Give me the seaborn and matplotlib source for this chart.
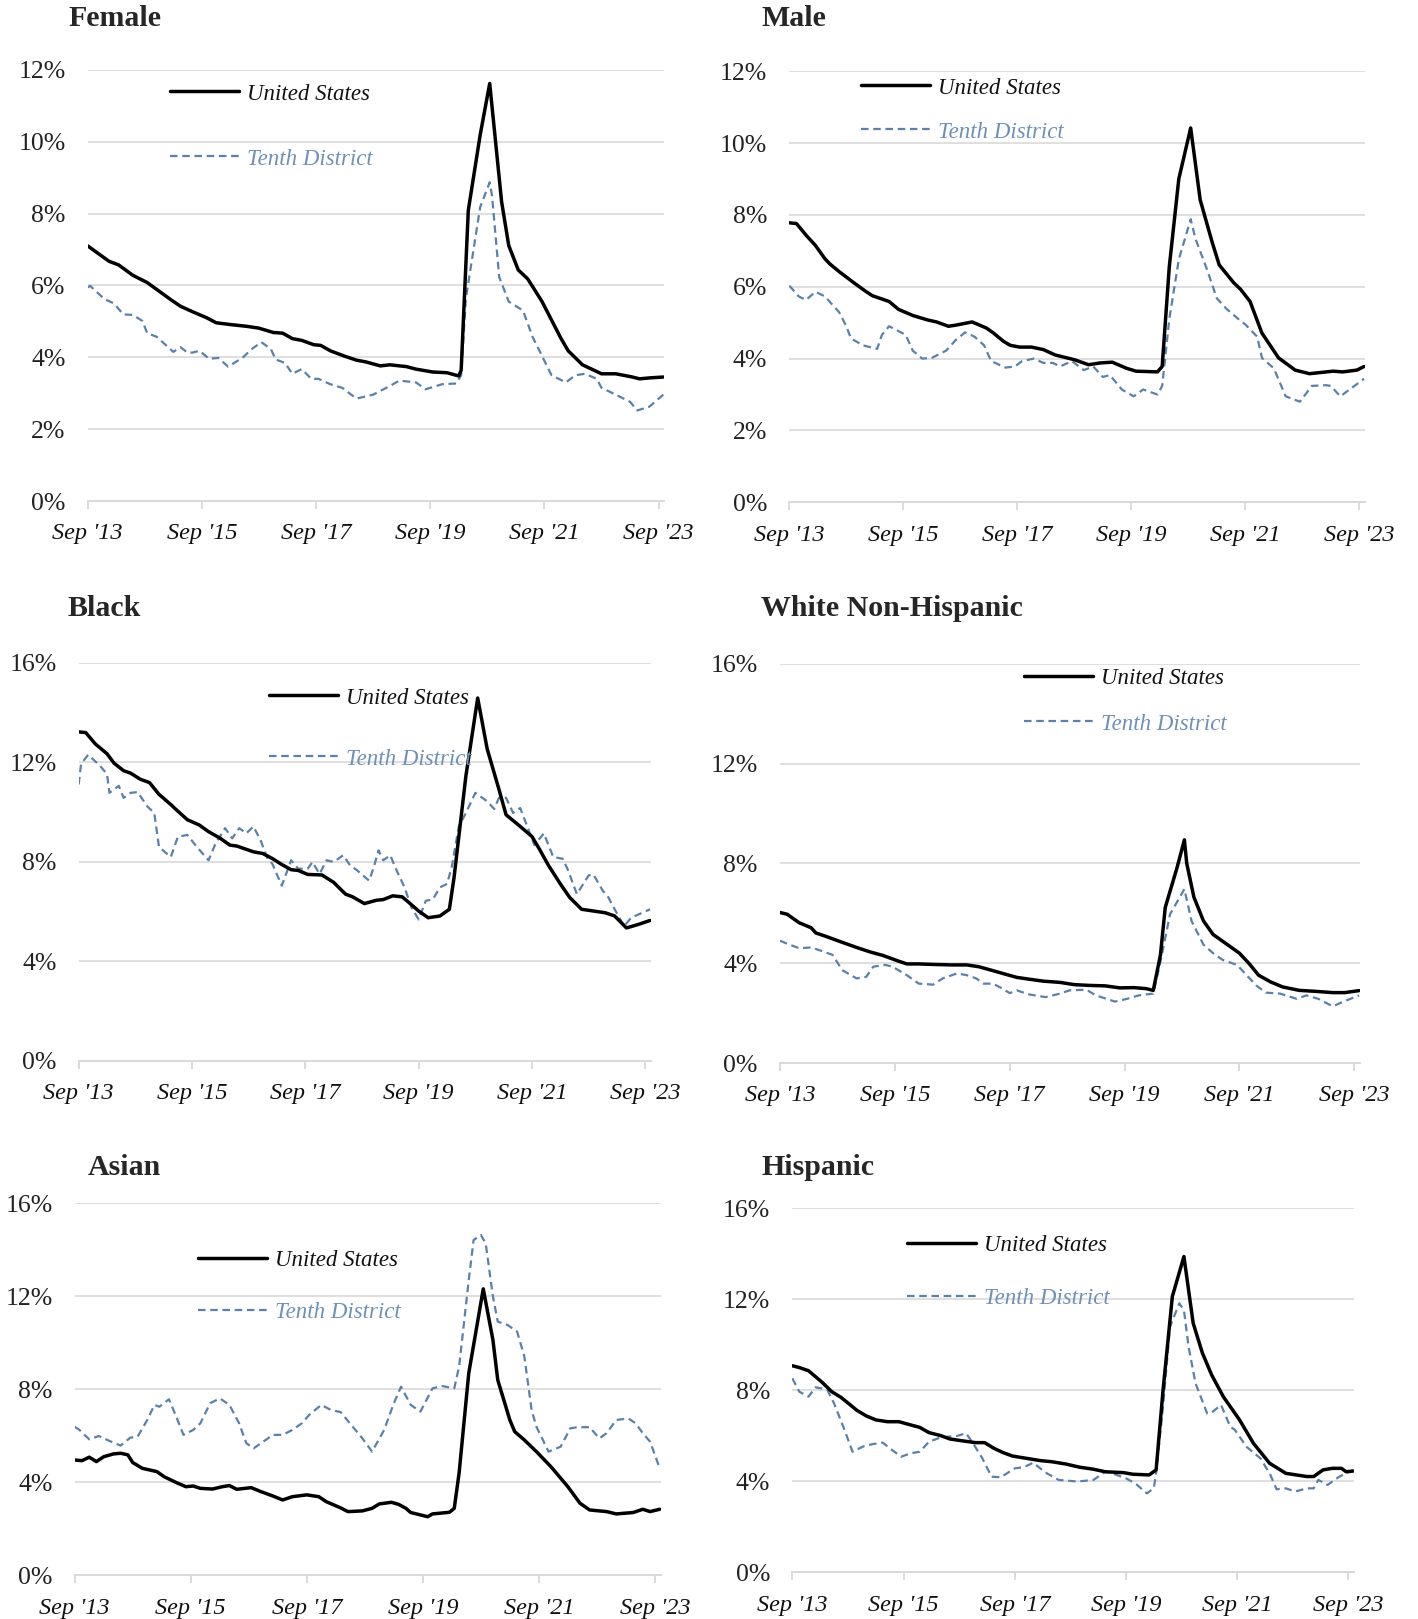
import matplotlib
matplotlib.use("Agg")
import matplotlib.pyplot as plt
import pandas as pd
import seaborn as sns
from matplotlib.legend import Legend

# months since Sep 2013, unemployment rate (%)
female_us = [(0, 7.10), (2.5, 6.86), (4.5, 6.67), (6.5, 6.57), (9.5, 6.28), (12.5, 6.08), (15, 5.84),
             (17.5, 5.60), (19.5, 5.42), (22, 5.27), (25, 5.10), (27, 4.96), (30, 4.91), (33.5, 4.86),
             (36, 4.81), (39, 4.69), (41, 4.67), (43, 4.52), (45, 4.47), (47.5, 4.35), (49, 4.33),
             (51, 4.18), (54, 4.03), (56.5, 3.92), (58.5, 3.87), (61.5, 3.76), (63.5, 3.79), (67, 3.74),
             (69, 3.67), (72.5, 3.59), (75.5, 3.57), (78, 3.48), (78.5, 3.64), (80, 8.09), (82.5, 10.19),
             (84.5, 11.62), (87, 8.33), (88.5, 7.11), (90.5, 6.43), (92.5, 6.18), (95.5, 5.55),
             (99.5, 4.52), (101, 4.18), (104, 3.79), (108, 3.54), (111, 3.54), (114.5, 3.45),
             (116, 3.40), (118.5, 3.43), (121, 3.45)]
female_td = [(0, 5.94), (0.5, 5.99), (3.5, 5.62), (5.5, 5.50), (7.5, 5.19), (9.5, 5.18), (11.5, 5.01),
             (12.5, 4.67), (14.5, 4.57), (16.5, 4.33), (18, 4.15), (19.5, 4.28), (21, 4.13), (22, 4.13),
             (23.5, 4.18), (25.5, 3.96), (27.5, 3.98), (29.5, 3.74), (32.5, 3.98), (34.5, 4.23),
             (36.5, 4.42), (38.5, 4.23), (39.5, 3.94), (41.5, 3.84), (43, 3.54), (45, 3.67), (47, 3.40),
             (48.5, 3.40), (51, 3.25), (53.5, 3.15), (56.5, 2.85), (60, 2.96), (63.5, 3.20), (65.5, 3.35),
             (69, 3.30), (71, 3.11), (74.5, 3.25), (77.5, 3.27), (78.5, 3.50), (79.5, 5.64), (82.5, 8.18),
             (84.5, 8.87), (85, 8.48), (86.5, 6.23), (88.5, 5.55), (91.5, 5.30), (93.5, 4.57),
             (97.5, 3.50), (100.5, 3.30), (102.5, 3.50), (104.5, 3.54), (107, 3.40), (108, 3.15),
             (111, 2.96), (114, 2.76), (115.5, 2.52), (118, 2.62), (121, 2.96)]

male_us = [(0, 7.78), (1.5, 7.76), (3.5, 7.44), (5.5, 7.15), (7.5, 6.78), (8.5, 6.64), (10.5, 6.42),
           (13.5, 6.12), (16, 5.88), (17.5, 5.75), (21, 5.59), (23, 5.37), (26, 5.20), (29, 5.08),
           (31, 5.02), (33.5, 4.90), (35, 4.93), (38.5, 5.02), (41.5, 4.85), (43, 4.71), (45, 4.49),
           (46.5, 4.37), (48.5, 4.32), (51, 4.32), (53.5, 4.25), (56, 4.10), (60, 3.97), (63, 3.83),
           (65.5, 3.88), (68, 3.90), (71, 3.73), (73, 3.65), (77.5, 3.63), (78.5, 3.78), (80, 6.56),
           (82, 9.00), (84.5, 10.42), (86.5, 8.42), (89, 7.25), (90.5, 6.61), (93.5, 6.12), (95, 5.93),
           (97, 5.59), (99.5, 4.71), (103, 4.02), (106.5, 3.68), (109.5, 3.58), (114.5, 3.65),
           (116.5, 3.63), (119.5, 3.68), (121, 3.78)]
male_td = [(0, 6.03), (2, 5.73), (3.5, 5.63), (5.5, 5.86), (7.5, 5.73), (10.5, 5.29), (12, 4.90),
           (13, 4.56), (15.5, 4.37), (18.5, 4.27), (19.5, 4.66), (21, 4.90), (22.5, 4.80), (24.5, 4.66),
           (26, 4.22), (28, 4.00), (30, 4.02), (33, 4.22), (35, 4.51), (37, 4.73), (39, 4.61), (41, 4.37),
           (42.5, 3.93), (45.5, 3.75), (47.5, 3.78), (49, 3.93), (51.5, 4.00), (53.5, 3.88), (55.5, 3.88),
           (57, 3.78), (59.5, 3.93), (62, 3.68), (64, 3.78), (66, 3.49), (67.5, 3.54), (70, 3.14),
           (72.5, 2.95), (74.5, 3.14), (77.5, 3.00), (78.5, 3.24), (80, 5.10), (82, 6.76), (84.5, 7.88),
           (85.5, 7.34), (88, 6.46), (90, 5.68), (92, 5.39), (95, 5.05), (96, 4.95), (98.5, 4.61),
           (99.5, 4.02), (102, 3.73), (104.5, 2.95), (107.5, 2.80), (110, 3.24), (113, 3.26), (114, 3.24),
           (116, 2.95), (119.5, 3.29), (121, 3.44)]

black_us = [(0, 13.22), (1.5, 13.19), (3.5, 12.74), (6, 12.34), (7.5, 11.96), (9.5, 11.66), (11, 11.56),
            (13, 11.32), (15, 11.18), (17, 10.71), (19.5, 10.30), (20.5, 10.12), (23, 9.69), (25.5, 9.48),
            (27.5, 9.21), (30, 8.94), (32, 8.67), (33.5, 8.63), (37, 8.40), (39, 8.33), (41, 8.13),
            (43, 7.89), (45, 7.68), (46.5, 7.65), (48.5, 7.49), (51.5, 7.47), (54, 7.17), (56.5, 6.70),
            (58, 6.59), (60.5, 6.32), (63, 6.45), (64.5, 6.48), (66.5, 6.63), (68.5, 6.59), (69.5, 6.43),
            (72, 6.02), (74, 5.75), (76.5, 5.82), (78.5, 6.09), (79.5, 7.38), (82, 11.45), (84.5, 14.58),
            (86.5, 12.54), (89, 10.91), (90.5, 9.89), (93.5, 9.42), (96, 9.01), (97.5, 8.53), (99.5, 7.85),
            (102, 7.11), (104, 6.56), (106.5, 6.09), (109, 6.02), (111.5, 5.95), (113.5, 5.82),
            (116, 5.34), (118.5, 5.48), (121, 5.64)]
black_td = [(0, 11.11), (0.5, 11.93), (2, 12.30), (4.5, 11.86), (6, 11.52), (6.5, 10.77), (8.5, 11.05),
            (9.5, 10.57), (11, 10.77), (12.5, 10.80), (14.5, 10.23), (16, 9.96), (17, 8.60), (19.5, 8.19),
            (21, 9.00), (23, 9.08), (25, 8.60), (27.5, 8.06), (29, 8.74), (31, 9.35), (32.5, 8.94),
            (34, 9.35), (35.5, 9.14), (37, 9.42), (38.5, 8.87), (40, 8.12), (41, 7.92), (43, 7.04),
            (45, 8.06), (46.5, 7.72), (48.5, 7.72), (49.5, 7.99), (51, 7.51), (52.5, 8.06), (54, 7.99),
            (56, 8.26), (57.5, 7.85), (59, 7.65), (61.5, 7.24), (62.5, 7.79), (63.5, 8.46), (64.5, 8.06),
            (66, 8.26), (67, 7.79), (69, 6.97), (70.5, 6.15), (72, 5.68), (73.5, 6.43), (75, 6.49),
            (76.5, 6.97), (78, 7.11), (79, 7.79), (80.5, 9.42), (82, 9.96), (84, 10.77), (86.5, 10.43),
            (88, 10.12), (89, 10.57), (90.5, 10.57), (92, 9.96), (93.5, 10.16), (95, 9.42), (96.5, 8.67),
            (98.5, 9.14), (100.5, 8.19), (102.5, 8.12), (103.5, 7.72), (105.5, 6.70), (108, 7.45),
            (109, 7.49), (111, 6.83), (112, 6.63), (113.5, 6.09), (115.5, 5.41), (117, 5.75), (121, 6.09)]

white_us = [(0, 6.03), (1.5, 5.96), (4, 5.62), (6.5, 5.42), (7.5, 5.21), (9.5, 5.08), (12.5, 4.87),
            (16, 4.63), (19, 4.44), (21.5, 4.31), (24.5, 4.10), (26.5, 3.97), (29, 3.97), (32, 3.95),
            (36, 3.93), (39, 3.93), (41.5, 3.86), (44.5, 3.70), (46.5, 3.59), (49.5, 3.43), (52, 3.36),
            (55, 3.28), (58.5, 3.23), (61.5, 3.14), (64.5, 3.11), (68, 3.09), (71, 3.01), (74, 3.02),
            (76.5, 2.98), (78, 2.91), (79.5, 4.33), (80.5, 6.23), (83, 7.85), (84.5, 8.94), (85, 7.99),
            (86.5, 6.64), (88.5, 5.69), (90.5, 5.15), (93, 4.81), (96, 4.40), (98, 3.99), (100, 3.52),
            (102.5, 3.25), (105, 3.05), (108.5, 2.91), (112, 2.87), (115.5, 2.82), (118, 2.82),
            (121, 2.90)]
white_td = [(0, 4.90), (2, 4.74), (4, 4.60), (6.5, 4.63), (9, 4.47), (11, 4.33), (13, 3.72), (16, 3.39),
            (18, 3.45), (19.5, 3.86), (22, 3.93), (23.5, 3.86), (26.5, 3.52), (29, 3.18), (32, 3.14),
            (34, 3.39), (37, 3.59), (39, 3.52), (41, 3.39), (42.5, 3.18), (44.5, 3.18), (46.5, 2.98),
            (48, 2.80), (49.5, 2.91), (52, 2.75), (55.5, 2.64), (58.5, 2.78), (60.5, 2.91), (64, 2.94),
            (66, 2.71), (70, 2.46), (72.5, 2.57), (75, 2.71), (78, 2.78), (79.5, 4.06), (81.5, 5.96),
            (84.5, 6.97), (86, 5.69), (88.5, 4.74), (90.5, 4.40), (92.5, 4.13), (95.5, 3.93), (97.5, 3.52),
            (99.5, 3.11), (101.5, 2.82), (104.5, 2.78), (108, 2.57), (110, 2.71), (112.5, 2.57),
            (115.5, 2.27), (117.5, 2.44), (121, 2.71)]

asian_us = [(0, 4.96), (1.5, 4.93), (3, 5.08), (4.5, 4.89), (6, 5.10), (8, 5.22), (9.5, 5.25), (11, 5.18),
            (12, 4.85), (14, 4.60), (17, 4.46), (18.5, 4.24), (21, 3.99), (23, 3.81), (24.5, 3.84),
            (26, 3.74), (28.5, 3.71), (30.5, 3.81), (32, 3.86), (33.5, 3.70), (36.5, 3.77), (38.5, 3.60),
            (41, 3.41), (43, 3.24), (45, 3.38), (48, 3.46), (50.5, 3.38), (52, 3.17), (55, 2.90),
            (56.5, 2.74), (59.5, 2.77), (61.5, 2.88), (63, 3.07), (65.5, 3.14), (67, 3.05), (68.5, 2.88),
            (69.5, 2.70), (73, 2.52), (74, 2.64), (77.5, 2.71), (78.5, 2.88), (79.5, 4.39), (81.5, 8.69),
            (84.5, 12.32), (86.5, 10.12), (87.5, 8.40), (90, 6.68), (91, 6.18), (93, 5.82), (95.5, 5.32),
            (98.5, 4.67), (102, 3.81), (104.5, 3.10), (106.5, 2.81), (110, 2.74), (112, 2.64),
            (115.5, 2.70), (117.5, 2.84), (119, 2.74), (121, 2.84)]
asian_td = [(0, 6.39), (1, 6.25), (3, 5.85), (5, 5.99), (7.5, 5.75), (9.5, 5.58), (11.5, 5.92), (13, 5.96),
            (15, 6.68), (16.5, 7.33), (17.5, 7.25), (19.5, 7.57), (21, 6.82), (22.5, 6.04), (24.5, 6.25),
            (26, 6.54), (28, 7.40), (30, 7.61), (32, 7.33), (34, 6.54), (35.5, 5.68), (37, 5.46),
            (39, 5.75), (41, 6.04), (43, 6.04), (45, 6.25), (47, 6.54), (48.5, 6.90), (51, 7.33),
            (53, 7.11), (55, 7.02), (57.5, 6.39), (59.5, 5.89), (61.5, 5.32), (64, 6.25), (66, 7.40),
            (67.5, 8.11), (69.5, 7.33), (71.5, 7.04), (74, 8.04), (76, 8.14), (78.5, 8.04), (79.5, 8.97),
            (81.5, 12.70), (82.5, 14.42), (84, 14.64), (85, 14.28), (86.5, 11.99), (87.5, 10.91),
            (89.5, 10.77), (91.5, 10.48), (93, 9.41), (94.5, 7.11), (95.5, 6.39), (98, 5.32),
            (100.5, 5.53), (102.5, 6.32), (104, 6.37), (106.5, 6.37), (108.5, 5.89), (110, 6.11),
            (112, 6.68), (114.5, 6.75), (116, 6.54), (117.5, 6.11), (119, 5.75), (121, 4.60)]

hispanic_us = [(0, 9.08), (1.5, 9.00), (3.5, 8.86), (5, 8.60), (6.5, 8.34), (8.5, 7.94), (10.5, 7.69),
               (12.5, 7.36), (14, 7.11), (16, 6.87), (18, 6.70), (20.5, 6.62), (23, 6.62), (25.5, 6.48),
               (27.5, 6.37), (29.5, 6.14), (32, 6.01), (34, 5.86), (37, 5.77), (39.5, 5.70), (41.5, 5.70),
               (43.5, 5.45), (45.5, 5.26), (47.5, 5.11), (50.5, 5.01), (53.5, 4.91), (56, 4.86),
               (59, 4.76), (62, 4.62), (65, 4.53), (67.5, 4.42), (71.5, 4.38), (73.5, 4.31), (77, 4.28),
               (78.5, 4.50), (80, 8.01), (82, 12.12), (84.5, 13.88), (86.5, 10.95), (88.5, 9.63),
               (90.5, 8.67), (93, 7.72), (96.5, 6.70), (99.5, 5.67), (103, 4.79), (106.5, 4.35),
               (111, 4.21), (112.5, 4.21), (114.5, 4.50), (116.5, 4.57), (118.5, 4.57), (119.5, 4.42),
               (121, 4.45)]
hispanic_td = [(0, 8.53), (1.5, 7.94), (3.5, 7.72), (5, 8.13), (7.5, 8.04), (9, 7.43), (11, 6.40),
               (13, 5.30), (15.5, 5.55), (17.5, 5.64), (19.5, 5.70), (21.5, 5.38), (23.5, 5.08),
               (25.5, 5.23), (27.5, 5.30), (29.5, 5.74), (31.5, 5.89), (33.5, 5.96), (35.5, 5.99),
               (37.5, 6.11), (39, 5.67), (41, 5.01), (43, 4.20), (45, 4.18), (48, 4.57), (50, 4.62),
               (52, 4.82), (54.5, 4.40), (57.5, 4.06), (61.5, 3.99), (65, 4.06), (66.5, 4.28), (67.5, 4.42),
               (69, 4.35), (72, 4.13), (74, 3.91), (76.5, 3.47), (78, 3.69), (78.5, 4.35), (80, 7.28),
               (81.5, 10.80), (83.5, 11.82), (84.5, 11.53), (85.5, 9.92), (87, 8.31), (89.5, 6.99),
               (90.5, 7.02), (92.5, 7.36), (94.5, 6.40), (95.5, 6.26), (98, 5.52), (101, 5.01),
               (103, 4.35), (104.5, 3.65), (106.5, 3.69), (108.5, 3.55), (111, 3.69), (112.5, 3.69),
               (113.5, 4.06), (115.5, 3.84), (118, 4.20), (121, 4.50)]

tick_months = [0, 24, 48, 72, 96, 120]
tick_labels = ["Sep '13", "Sep '15", "Sep '17", "Sep '19", "Sep '21", "Sep '23"]

W, H = 1418, 1619
TD_COLOR = "#5a81a9"
TD_TEXT = "#6e90b6"
GRID = "#d9d9d9"

sns.set_style("white")
plt.rcParams["font.family"] = ["Liberation Serif", "DejaVu Serif"]


def box(x0, x1, ytop, ybot):
    # pixel box -> figure fraction rect
    return [x0 / W, 1 - ybot / H, (x1 - x0) / W, (ybot - ytop) / H]


# title, US, Tenth, ymax, step, axes box, title pos, legend (x, row1 y, row2 y)
panels = [
    ("Female", female_us, female_td, 12, 2, box(87.7, 664.3, 69.8, 501), (68, 18), (170, 94, 159)),
    ("Male", male_us, male_td, 12, 2, box(789.3, 1365, 71.2, 502.3), (761, 18), (861, 88, 132)),
    ("Black", black_us, black_td, 16, 4, box(78.7, 651, 662.7, 1060.8), (68, 608), (269, 698, 759)),
    ("White Non-Hispanic", white_us, white_td, 16, 4, box(780, 1360, 663.7, 1063), (761, 608),
     (1024, 678, 724)),
    ("Asian", asian_us, asian_td, 16, 4, box(74.7, 660.7, 1203.3, 1575.3), (88, 1167), (198, 1260, 1312)),
    ("Hispanic", hispanic_us, hispanic_td, 16, 4, box(792.3, 1354, 1208.3, 1572.3), (761, 1167),
     (907, 1245, 1298)),
]

fig = plt.figure(figsize=(W / 100, H / 100), dpi=100)

for title, us, td, ymax, step, rect, tpos, key in panels:
    ax = fig.add_axes(rect)
    us_df = pd.DataFrame(us, columns=["month", "rate"])
    td_df = pd.DataFrame(td, columns=["month", "rate"])
    sns.lineplot(data=td_df, x="month", y="rate", ax=ax, color=TD_COLOR, linewidth=1.6, errorbar=None)
    sns.lineplot(data=us_df, x="month", y="rate", ax=ax, color="black", linewidth=2.5, errorbar=None)
    td_line, us_line = ax.lines[0], ax.lines[1]
    td_line.set_dashes((3.4, 2.1))

    ax.set_xlim(0, 121.2)
    ax.set_ylim(0, ymax)
    yt = list(range(0, ymax + 1, step))
    ax.set_yticks(yt)
    ax.set_yticklabels([f"{v}%" for v in yt], fontsize=18.5, color="#222222")
    ax.set_xticks(tick_months)
    ax.set_xticklabels(tick_labels, fontsize=17.5, style="italic", color="#111111")
    ax.set_xlabel("")
    ax.set_ylabel("")
    ax.grid(axis="y", color=GRID, linewidth=1.2)
    ax.grid(axis="x", visible=False)
    ax.set_axisbelow(True)
    for s in ["top", "right", "left"]:
        ax.spines[s].set_visible(False)
    ax.spines["bottom"].set_color(GRID)
    ax.spines["bottom"].set_linewidth(1.4)
    ax.tick_params(axis="x", bottom=True, length=6, width=1.3, color=GRID, pad=10)
    ax.tick_params(axis="y", left=False, length=0, pad=16)

    fig.text(tpos[0] / W, 1 - tpos[1] / H, title, fontsize=21.5, fontweight="bold", ha="left", va="center")

    kx, ky1, ky2 = key
    for line, label, col, ky in [(us_line, "United States", "#111111", ky1),
                                 (td_line, "Tenth District", TD_TEXT, ky2)]:
        leg = Legend(ax, [line], [label], loc="center left", bbox_to_anchor=(kx / W, 1 - ky / H),
                     bbox_transform=fig.transFigure, frameon=False, handlelength=3.0,
                     handletextpad=0.35, borderpad=0, borderaxespad=0,
                     prop={"style": "italic", "size": 16.5}, labelcolor=col)
        ax.add_artist(leg)

fig.savefig("out.png", dpi=100, facecolor="white")
